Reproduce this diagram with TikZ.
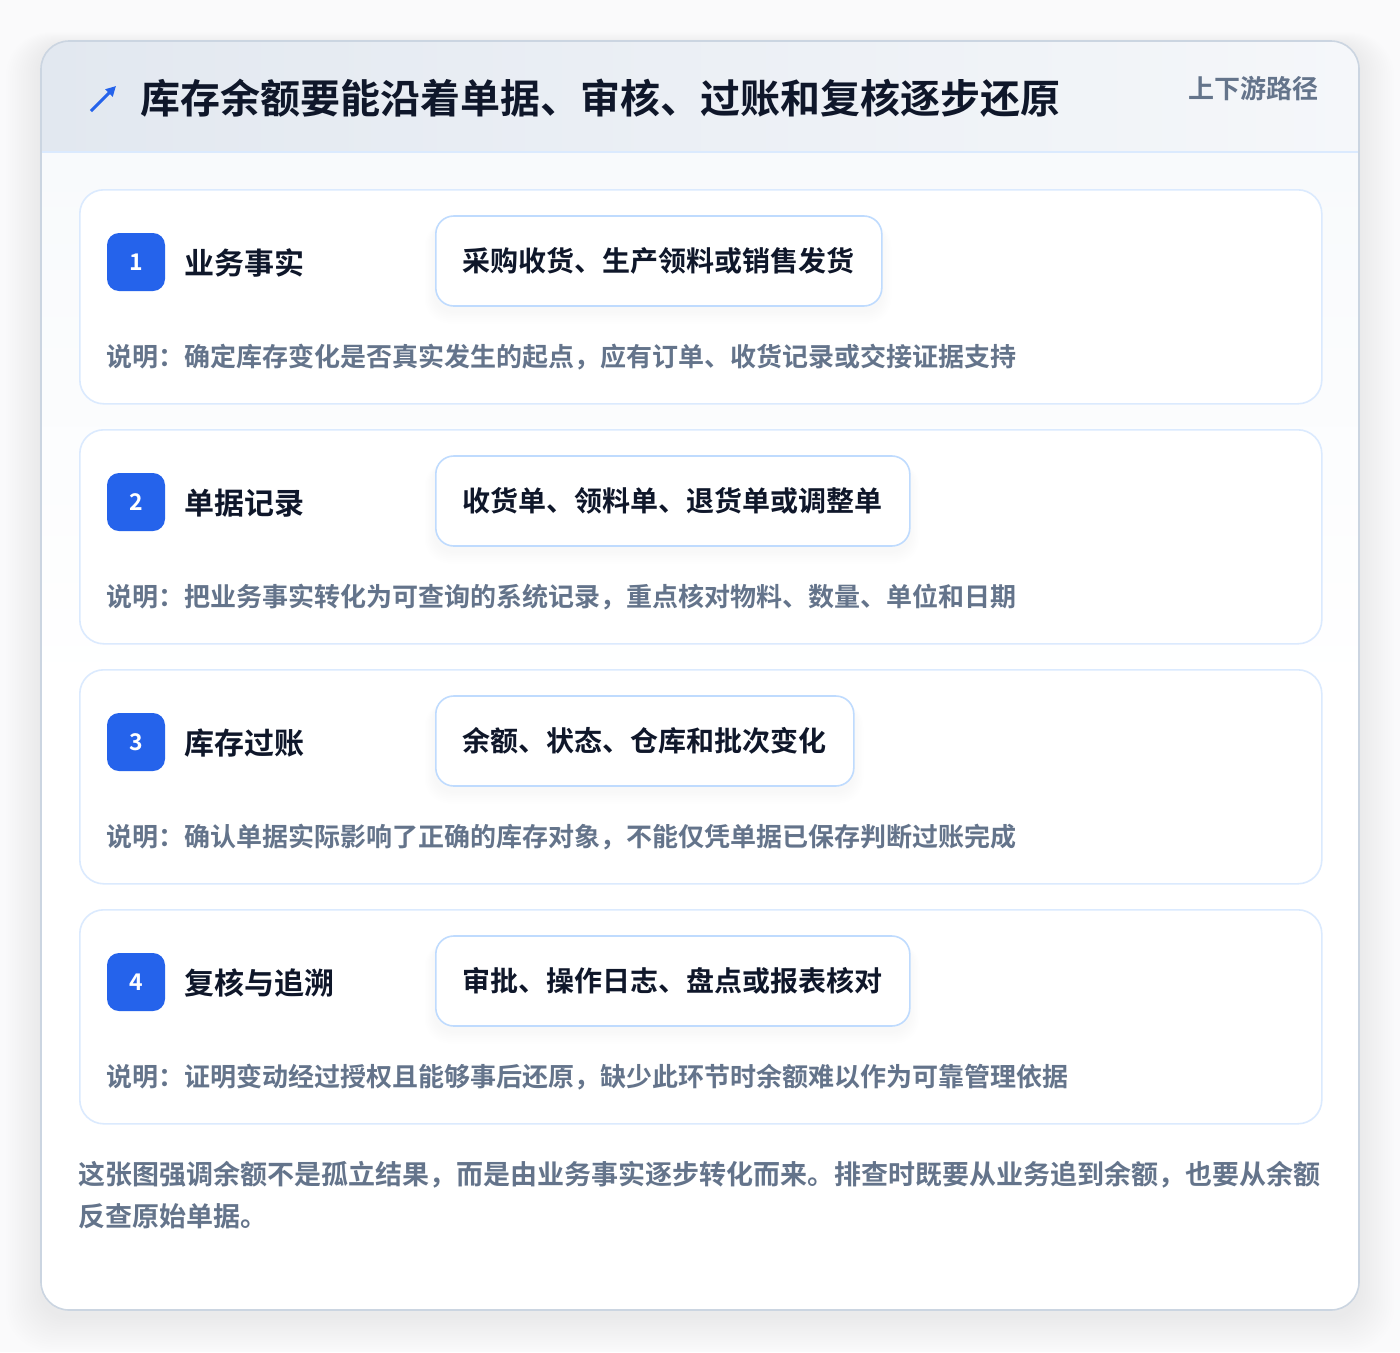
\documentclass[tikz,border=0pt]{standalone}
\usepackage{fontspec}
\setmainfont{Noto Sans CJK SC}[BoldFont={Noto Sans CJK SC Bold}]
\usetikzlibrary{arrows.meta}
\definecolor{pagebg}{HTML}{FAFAFB}
\definecolor{cardborder}{HTML}{CBD5E1}
\definecolor{bodyfill}{HTML}{F8FAFC}
\definecolor{hdrL}{HTML}{E2E8F0}
\definecolor{hdrR}{HTML}{F5F7FA}
\definecolor{hdrline}{HTML}{DBEAFE}
\definecolor{stepborder}{HTML}{DBEAFE}
\definecolor{boxborder}{HTML}{BFDBFE}
\definecolor{badgeblue}{HTML}{2563EB}
\definecolor{darktext}{HTML}{0F172A}
\definecolor{graytext}{HTML}{64748B}
\tikzset{
  stepcard/.style={draw=stepborder, line width=1.6pt, fill=white, rounded corners=24pt},
  badge/.style={fill=badgeblue, rounded corners=12pt, minimum width=58pt, minimum height=58pt, inner sep=0pt, text=white, font=\bfseries\fontsize{23}{26}\selectfont},
  steplabel/.style={anchor=west, inner sep=0pt, text=darktext, font=\bfseries\fontsize{30}{36}\selectfont},
  contentbox/.style={draw=boxborder, line width=1.6pt, fill=white, rounded corners=18pt, inner xsep=27pt, inner ysep=0pt, minimum height=90pt, anchor=west, text=darktext, font=\bfseries\fontsize{28}{34}\selectfont},
  desctext/.style={anchor=west, inner sep=0pt, text=graytext, font=\bfseries\fontsize{26}{32}\selectfont},
}
\begin{document}
\begin{tikzpicture}[x=1pt,y=-1pt]
\useasboundingbox (0,0) rectangle (1400,1352);
\fill[pagebg] (0,0) rectangle (1400,1352);
% outer shadow
\foreach \i in {1,...,16} {
  \fill[black, opacity=0.0045, rounded corners={28pt+\i pt}] (41-\i*2.2, 41+4-\i*0.8) rectangle (1359+\i*2.2, 1310+6+\i*2.2);
}
% card
\fill[white, rounded corners=28pt] (41,41) rectangle (1359,1310);
\begin{scope}
  \clip[rounded corners=28pt] (41,41) rectangle (1359,1310);
  \shade[left color=hdrL, right color=hdrR] (41,41) rectangle (1359,152);
  \shade[top color=bodyfill, bottom color=white] (41,152) rectangle (1359,700);
\end{scope}
\draw[hdrline, line width=1.6pt] (41,152) -- (1359,152);
\draw[cardborder, line width=1.6pt, rounded corners=28pt] (41,41) rectangle (1359,1310);
% title
\coordinate (arrS) at (91,111);
\coordinate (arrE) at (116,86);
\draw[badgeblue, line width=3pt, -{Triangle[length=10pt,width=10pt]}] (arrS) -- (arrE);
\node[anchor=west, inner sep=0pt, text=darktext, font=\bfseries\fontsize{40}{48}\selectfont] (title) at (140,98) {库存余额要能沿着单据、审核、过账和复核逐步还原};
\node[anchor=east, inner sep=0pt, text=graytext, font=\bfseries\fontsize{26}{32}\selectfont] (tag) at (1319,89) {上下游路径};
% steps
\foreach \n/\yy/\bw/\lab/\bx/\desc in {
  1/189/446/业务事实/采购收货、生产领料或销售发货/说明：确定库存变化是否真实发生的起点，应有订单、收货记录或交接证据支持,
  2/429/474/单据记录/收货单、领料单、退货单或调整单/说明：把业务事实转化为可查询的系统记录，重点核对物料、数量、单位和日期,
  3/669/418/库存过账/余额、状态、仓库和批次变化/说明：确认单据实际影响了正确的库存对象，不能仅凭单据已保存判断过账完成,
  4/909/474/复核与追溯/审批、操作日志、盘点或报表核对/说明：证明变动经过授权且能够事后还原，缺少此环节时余额难以作为可靠管理依据} {
  \node[stepcard, anchor=north west, minimum width=1242pt, minimum height=214pt, inner sep=0pt] (card\n) at (79,\yy) {};
  \foreach \k in {1,...,7} {
    \fill[black, opacity=0.0055, rounded corners={18pt+\k pt}] (435-\k*1.5, \yy+28+5) rectangle (435+\bw+\k*1.5, \yy+118+4+\k*1.8);
  }
  \node[badge] (badge\n) at (136,\yy+73) {\n};
  \node[steplabel] (label\n) at (184,\yy+74) {\lab};
  \node[contentbox, minimum width=\bw pt] (box\n) at (435,\yy+72) {\bx};
  \node[desctext] (desc\n) at (106,\yy+168) {\desc};
}
% footer
\node[anchor=north west, inner sep=0pt, text=graytext, align=left, font=\bfseries\fontsize{27}{42}\selectfont] (footer) at (78,1161) {这张图强调余额不是孤立结果，而是由业务事实逐步转化而来。排查时既要从业务追到余额，也要从余额\\反查原始单据。};
\end{tikzpicture}
\end{document}
